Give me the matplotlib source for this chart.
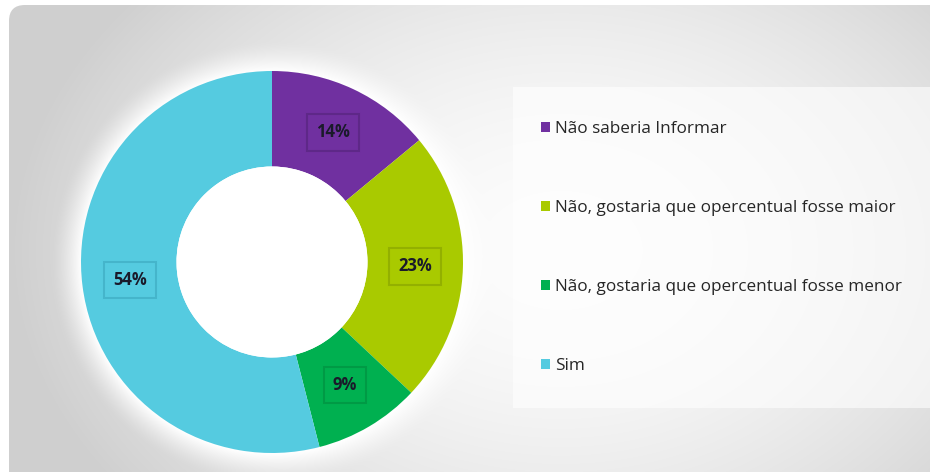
import numpy as np
import matplotlib
matplotlib.use("Agg")
import matplotlib.pyplot as plt
from matplotlib.patches import FancyBboxPatch, Rectangle, Circle

categories = ["Não saberia Informar",
              "Não, gostaria que opercentual fosse maior",
              "Não, gostaria que opercentual fosse menor",
              "Sim"]
values = [14, 23, 9, 54]
colors = ["#7030A0", "#A9CA00", "#00B050", "#55CBE0"]
edge_colors = ["#5E2888", "#93B000", "#009A45", "#45B5CB"]

W, H = 930, 472
cx, cy, R = 272, 262, 191

fig = plt.figure(figsize=(W / 100, H / 100), dpi=100)
fig.patch.set_facecolor("white")

# background gradient panel with rounded corners
bg = fig.add_axes([0, 0, 1, 1])
bg.set_xlim(0, W)
bg.set_ylim(H, 0)
bg.axis("off")
yy, xx = np.mgrid[0:H, 0:W]
d = np.sqrt(((xx - 560) / 520.0) ** 2 + ((yy - 250) / 380.0) ** 2)
g = 0.99 - 0.16 * np.clip(d, 0, 1.05) ** 1.8
rr_ = np.sqrt((xx - cx) ** 2 + (yy - cy) ** 2)
glow = np.clip(1 - (rr_ - R) / 30.0, 0, 1) ** 1.5
g = g + (1 - g) * glow
img = np.dstack([g, g, g])
im = bg.imshow(img, extent=(0, W, H, 0), aspect="auto", interpolation="bilinear")
panel = FancyBboxPatch((9, 5), W - 9 + 20, H - 5 + 20,
                       boxstyle="round,pad=0,rounding_size=16",
                       transform=bg.transData, fc="none", ec="none")
bg.add_patch(panel)
im.set_clip_path(panel)

# legend panel (lighter, translucent)
lg = Rectangle((513, 87), 417, 321, transform=bg.transData,
               fc="white", ec="none", alpha=0.6, zorder=2)
bg.add_patch(lg)

# donut
ax = fig.add_axes([(cx - R) / W, (H - cy - R) / H, 2 * R / W, 2 * R / H])
ax.set_facecolor("none")
wedges, _ = ax.pie(values, colors=colors, startangle=90, counterclock=False,
                   radius=1.0, wedgeprops=dict(width=0.5, edgecolor="none"))
ax.add_patch(Circle((0, 0), 0.5, fc="white", ec="none", zorder=3))
ax.set_xlim(-1, 1)
ax.set_ylim(-1, 1)
ax.set_aspect("equal")
ax.axis("off")

# labels
total = float(sum(values))
start = 90.0
for v, c, ec in zip(values, colors, edge_colors):
    theta = np.deg2rad(start - v / total * 360 / 2)
    start -= v / total * 360
    rr = 0.75
    ax.text(rr * np.cos(theta), rr * np.sin(theta), f"{v}%",
            ha="center", va="center", fontsize=12, fontweight="bold",
            color="#1A1A2A", family="Open Sans", zorder=5,
            bbox=dict(boxstyle="square,pad=0.55", fc=c, ec=ec, lw=1.5))

# legend
leg = fig.legend(wedges, categories, loc="upper left",
                 bbox_to_anchor=(526 / W, 1 - 106 / H),
                 frameon=False, handlelength=0.5, handleheight=0.5,
                 handletextpad=0.3, labelspacing=3.68,
                 prop=dict(family="Open Sans", size=12.3),
                 labelcolor="#262626")

fig.savefig("out.png", dpi=100)
